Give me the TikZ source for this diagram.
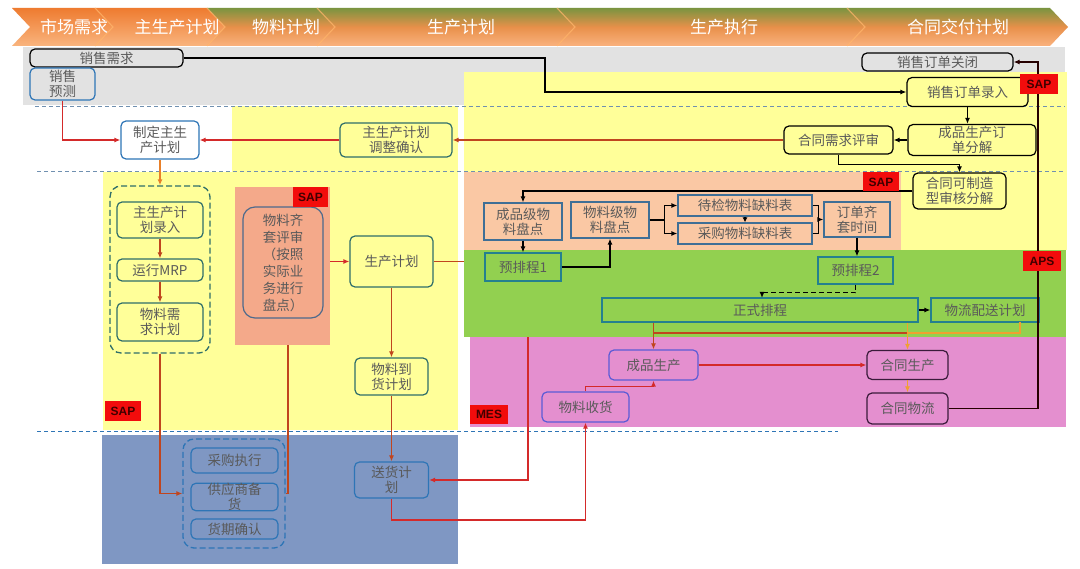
\documentclass[tikz,border=0pt]{standalone}
\usepackage{fontspec}
\setmainfont{Noto Sans CJK SC}
\newfontfamily\labfont{Liberation Sans}
\usetikzlibrary{arrows.meta,calc}
\definecolor{cgray}{HTML}{E2E2E2}
\definecolor{cyel}{HTML}{FFFF99}
\definecolor{cpeach}{HTML}{FAC8A4}
\definecolor{csalmon}{HTML}{F4A98A}
\definecolor{cgreen}{HTML}{92D050}
\definecolor{cpink}{HTML}{E48FCF}
\definecolor{cblue}{HTML}{7F97C3}
\definecolor{cred}{HTML}{D42A2A}
\definecolor{cbrown}{HTML}{C0451E}
\definecolor{corange}{HTML}{F0A030}
\definecolor{corg2}{HTML}{E8802A}
\definecolor{ctext}{HTML}{5A5A5A}
\definecolor{cteal}{HTML}{2F6E6A}
\definecolor{cbord}{HTML}{2E75B6}
\definecolor{csteel}{HTML}{3F6F96}
\definecolor{cgb}{HTML}{24808F}
\definecolor{cpurp}{HTML}{5B5BD6}
\definecolor{cplum}{HTML}{3B1B3B}
\definecolor{cdash}{HTML}{7090B0}
\definecolor{csap}{HTML}{F20C0C}
\definecolor{cslate}{HTML}{4D6A8C}
\definecolor{bo1}{HTML}{EE7B30}
\definecolor{bo2}{HTML}{F9B47E}
\definecolor{bg1}{HTML}{7A9440}
\definecolor{bg2}{HTML}{E8904A}
\definecolor{bg3}{HTML}{FAB27E}
\begin{document}
\begin{tikzpicture}[x=1pt,y=-1pt,
  sz/.style 2 args={minimum width=#1pt,minimum height=#2pt},
  box/.style={draw,line width=1.2pt,align=center,inner sep=0pt,text=ctext,font=\fontsize{13.5}{15}\selectfont},
  rbox/.style={box,rounded corners=5pt},
  blkbox/.style={rbox,draw=black},
  bluebox/.style={rbox,draw=cbord},
  tealbox/.style={rbox,draw=cteal,fill=cyel},
  peachbox/.style={box,draw=csteel,fill=cpeach},
  grnbox/.style={box,draw=cgb,fill=cgreen},
  purpbox/.style={rbox,draw=cpurp,fill=cpink},
  plumbox/.style={rbox,draw=cplum,fill=cpink},
  botbox/.style={rbox,draw=cbord,fill=cblue,text=black!65},
  grp/.style={draw,line width=1.3pt,dash pattern=on 6pt off 3pt,rounded corners=11pt,inner sep=0pt},
  sap/.style={fill=csap,text=black!75!red,font=\labfont\bfseries\fontsize{12}{12}\selectfont,inner sep=0pt},
  ban/.style={text=white,font=\fontsize{17}{17}\selectfont,inner sep=0pt},
  arr/.style={-{Latex[length=6pt,width=5pt]}},
  kl/.style={draw=black,line width=1.2pt},
  rl/.style={draw=cred,line width=1.2pt},
  brl/.style={draw=cbrown,line width=1.2pt},
  ol/.style={draw=corange,line width=1.2pt},
  dl/.style={line width=0.9pt,dash pattern=on 4pt off 3pt}]
\useasboundingbox (0,0) rectangle (1080,569);
\fill[white] (0,0) rectangle (1080,569);
% banner
\shade[top color=bo1,bottom color=bo2] (12,8)--(95,8)--(113,27)--(95,46)--(12,46)--(30,27)--cycle;
\shade[top color=bo1,bottom color=bo2] (95,8)--(207,8)--(225,27)--(207,46)--(95,46)--(113,27)--cycle;
\shade[top color=bg1,bottom color=bg3,middle color=bg2] (207,8)--(317,8)--(335,27)--(317,46)--(207,46)--(225,27)--cycle;
\shade[top color=bg1,bottom color=bg3,middle color=bg2] (317,8)--(557,8)--(575,27)--(557,46)--(317,46)--(335,27)--cycle;
\shade[top color=bg1,bottom color=bg3,middle color=bg2] (557,8)--(847,8)--(865,27)--(847,46)--(557,46)--(575,27)--cycle;
\shade[top color=bg1,bottom color=bg3,middle color=bg2] (847,8)--(1050,8)--(1068,27)--(1050,46)--(847,46)--(865,27)--cycle;
\foreach \t in {113,225,335,575,865}{
  \draw[white!40!orange,line width=1.2pt,opacity=0.7] (\t-18,8)--(\t,27)--(\t-18,46);}
\node[ban] (b1) at (74,27) {市场需求};
\node[ban] (b2) at (177,27) {主生产计划};
\node[ban] (b3) at (286,27) {物料计划};
\node[ban] (b4) at (461,27) {生产计划};
\node[ban] (b5) at (724,27) {生产执行};
\node[ban] (b6) at (958,27) {合同交付计划};
% regions
\fill[cgray] (23,47) rectangle (1065,105);
\fill[cyel] (464,72) rectangle (1067,250);
\fill[cyel] (232,106) rectangle (458,172);
\fill[cyel] (103,172) rectangle (458,430);
\fill[cpeach] (464,172) rectangle (901,250);
\fill[cgreen] (464,250) rectangle (1066,337);
\fill[cpink] (470,337) rectangle (1066,427);
\fill[cblue] (102,435) rectangle (458,564);
\draw[cdash,dl] (35,106)--(1065,106);
\draw[cdash,dl] (37,171)--(1065,171);
\draw[cbord,dl] (37,431)--(838,431);
% nodes top
\node[blkbox,fill=cgray,sz={153}{18}] (xsxq) at (106.5,58) {销售需求};
\node[bluebox,fill=cgray,sz={65}{32}] (xsyc) at (62.5,84) {销售\\预测};
\node[blkbox,fill=cgray,sz={151}{18}] (xsddgb) at (937.5,62) {销售订单关闭};
\node[blkbox,fill=cyel,sz={121}{29}] (xsddlr) at (967.5,92) {销售订单录入};
\node[blkbox,fill=cyel,sz={128}{31}] (cpfj) at (972,140) {成品生产订\\单分解};
\node[blkbox,fill=cyel,sz={109}{28}] (htxq) at (838.5,140) {合同需求评审};
\node[tealbox,sz={112}{34}] (zsctz) at (396,140) {主生产计划\\调整确认};
\node[bluebox,fill=white,sz={78}{38}] (zdzsc) at (160,140) {制定主生\\产计划};
\node[blkbox,fill=cyel,sz={93}{36}] (htkz) at (959.5,191) {合同可制造\\型审核分解};
% left block
\node[grp,draw=cteal,sz={100}{167}] (grp1) at (160,269.5) {};
\node[tealbox,sz={86}{36}] (zsclr) at (160,220) {主生产计\\划录入};
\node[tealbox,sz={86}{22}] (mrp) at (160,270) {运行MRP};
\node[tealbox,sz={86}{38}] (wlxq) at (160,322) {物料需\\求计划};
\node[fill=csalmon,sz={95}{158},inner sep=0pt] (qtbg) at (282.5,266) {};
\node[rbox,rounded corners=12pt,draw=cslate,fill=csalmon,sz={80}{111},font=\fontsize{13.5}{17}\selectfont] (wlqt) at (283,262.5) {物料齐\\套评审\\（按照\\实际业\\务进行\\盘点）};
\node[tealbox,sz={83}{51}] (scjh) at (391.5,261.5) {生产计划};
\node[tealbox,sz={73}{37}] (wldh) at (391.5,376.5) {物料到\\货计划};
% peach block
\node[peachbox,sz={78}{37}] (cpjpd) at (523,221.5) {成品级物\\料盘点};
\node[peachbox,sz={78}{36}] (wljpd) at (610,220) {物料级物\\料盘点};
\node[peachbox,sz={134}{21}] (djqll) at (745,205.5) {待检物料缺料表};
\node[peachbox,sz={134}{21}] (cgqll) at (745,233.5) {采购物料缺料表};
\node[peachbox,sz={66}{35}] (ddqt) at (857,219.5) {订单齐\\套时间};
% green block
\node[grnbox,sz={76}{28}] (ypc1) at (523,267) {预排程1};
\node[grnbox,sz={75}{27}] (ypc2) at (855.5,270.5) {预排程2};
\node[grnbox,sz={316}{24}] (zspc) at (760,310) {正式排程};
\node[grnbox,sz={108}{24}] (wlps) at (985,310) {物流配送计划};
% pink block
\node[purpbox,sz={89}{30}] (cpsc) at (653.5,365) {成品生产};
\node[purpbox,sz={87}{30}] (wlsh) at (585.5,407) {物料收货};
\node[plumbox,sz={81}{29}] (htsc) at (907.5,365) {合同生产};
\node[plumbox,sz={81}{31}] (htwl) at (907.5,408.5) {合同物流};
% bottom block
\node[grp,draw=cbord,sz={102}{109}] (grp2) at (234,493.5) {};
\node[botbox,sz={87}{25}] (cgzx) at (234.5,460.5) {采购执行};
\node[botbox,sz={87}{26}] (gysbh) at (234.5,497) {供应商备\\货};
\node[botbox,sz={87}{20}] (hqqr) at (234.5,529) {货期确认};
\node[botbox,sz={74}{36}] (shjh) at (391.5,480) {送货计\\划};
% coordinates
\coordinate (c1) at (545,75);
\coordinate (rc) at (1038,200);
\coordinate (zn) at (762,298);
\coordinate (ge) at (464,261.5);
\coordinate (mt) at (528,337);
\coordinate (bt) at (391.5,520);
\coordinate (hj) at (907.5,333);
\coordinate (o1) at (1020,322);
\coordinate (o2) at (1020,333);
\coordinate (r1) at (653.5,333);
% black connectors
\draw[kl,arr] (xsxq.east) -| (c1) |- (xsddlr.west);
\draw[kl,arr] (xsddlr.south) -- (xsddlr.south |- cpfj.north);
\draw[kl,arr] (cpfj.west) -- (htxq.east);
\draw[kl,arr] (htxq.south) -- ++(0,10) -| (htkz.north);
\draw[kl,arr] (htkz.west) -| (cpjpd.north);
\draw[kl,arr] (cpjpd.south) -- (ypc1.north);
\draw[kl,arr] (ypc1.east) -| (wljpd.south);
\draw[kl,arr] (wljpd.east) -- ++(15,0) |- (djqll.west);
\draw[kl,arr] (wljpd.east) -- ++(15,0) |- (cgqll.west);
\draw[kl,-{Latex[length=5pt,width=5pt]}] (djqll.south) -- (cgqll.north);
\draw[kl] (djqll.east) -- ++(6,0) |- (cgqll.east);
\draw[kl,arr] ($(djqll.east)!0.5!(cgqll.east)+(6,0)$) -- (ddqt.west);
\draw[kl,arr] (ddqt.south) -- (ddqt.south |- ypc2.north);
\draw[kl,arr,dash pattern=on 5pt off 3pt] (ypc2.south) -- ++(0,8) -| (zn);
\draw[kl,arr] (zspc.east) -- (wlps.west);
\draw[kl,draw=black!85!red,arr] (htwl.east) -| (rc) |- (xsddgb.east);
% red connectors
\draw[rl,arr] (xsyc.south) |- (zdzsc.west);
\draw[brl,arr] (htxq.west) -- (zsctz.east);
\draw[rl,arr] (zsctz.west) -- (zdzsc.east);
\draw[draw=corg2,line width=1.2pt,arr] (zdzsc.south) -- (grp1.north);
\draw[brl,arr] (zsclr.south) -- (mrp.north);
\draw[brl,arr] (mrp.south) -- (wlxq.north);
\draw[brl,arr] (grp1.south) |- (grp2.west);
\draw[brl] ($(qtbg.south)+(5.5,0)$) |- (grp2.east);
\draw[rl,arr] (qtbg.east |- scjh.west) -- (scjh.west);
\draw[brl] (scjh.east) -- (ge);
\draw[brl,arr] (scjh.south) -- (wldh.north);
\draw[brl,arr] (wldh.south) -- (shjh.north);
\draw[rl,arr] (mt) |- (shjh.east);
\draw[rl,arr] (shjh.south) -- (bt) -| (wlsh.south);
\draw[rl,arr] (wlsh.north) -- ++(0,-5) -| (cpsc.south);
\draw[brl,arr] (zspc.south -| cpsc.north) -- (cpsc.north);
\draw[brl] (r1) -- (hj);
\draw[ol] (o1) -- (o2) -- (hj);
\draw[ol,arr] (zspc.south -| htsc.north) -- (htsc.north);
\draw[ol,arr] (htsc.south) -- (htwl.north);
\draw[rl,arr] (cpsc.east) -- (htsc.west);
% system labels on top
\node[sap,sz={38}{20}] (sap1) at (1039,84) {SAP};
\node[sap,sz={36}{19}] (sap2) at (881,182) {SAP};
\node[sap,sz={35}{20}] (sap3) at (310.5,197) {SAP};
\node[sap,sz={36}{20}] (sap4) at (123,411) {SAP};
\node[sap,sz={38}{20}] (aps) at (1042,261) {APS};
\node[sap,sz={38}{19}] (mes) at (489,414.5) {MES};
\end{tikzpicture}
\end{document}
